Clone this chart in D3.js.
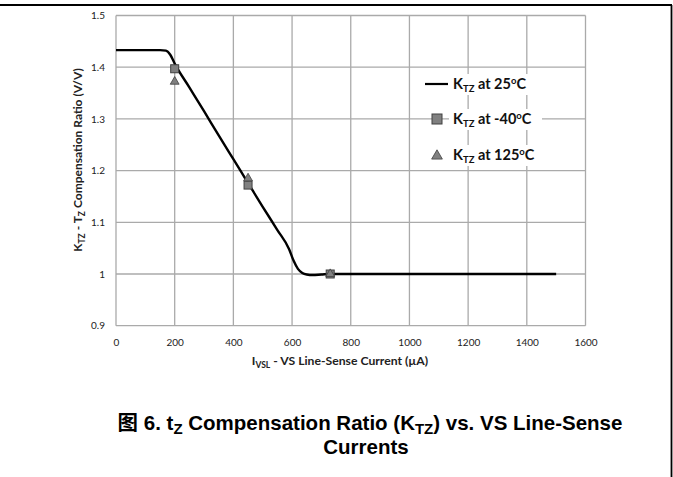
<!DOCTYPE html>
<html><head><meta charset="utf-8">
<script src="https://cdn.jsdelivr.net/npm/d3@7"></script>
<style>body{margin:0;background:#fff;}svg{display:block;}</style>
</head><body>
<svg id="c" width="673" height="477"></svg>
<script>
// ---- data ----
const xTicks = [0, 200, 400, 600, 800, 1000, 1200, 1400, 1600];
const yTicks = [0.9, 1, 1.1, 1.2, 1.3, 1.4, 1.5];
const yTickLabels = ["0.9", "1", "1.1", "1.2", "1.3", "1.4", "1.5"];
const curve25X = [0, 100, 150, 170, 185, 200, 250, 300, 350, 400, 450, 500, 550, 590, 605, 620, 635, 650, 670, 700, 730, 800, 1000, 1200, 1500];
const curve25Y = [1.433, 1.433, 1.433, 1.432, 1.424, 1.407, 1.361, 1.315, 1.268, 1.222, 1.176, 1.130, 1.085, 1.048, 1.026, 1.010, 1.002, 0.999, 0.998, 0.999, 1.0, 1.0, 1.0, 1.0, 1.0];
const m40X = [200, 450, 730];
const m40Y = [1.397, 1.172, 1.0];
const h125X = [200, 450, 730];
const h125Y = [1.372, 1.185, 1.0];

const svg = d3.select("#c");
const x = d3.scaleLinear().domain([0, 1600]).range([116, 585.5]);
const y = d3.scaleLinear().domain([0.9, 1.5]).range([325.7, 15.5]);
const tickFont = "Lato, 'Open Sans', sans-serif";

// frame
svg.append("line").attr("x1", 0).attr("x2", 672).attr("y1", 5).attr("y2", 5).attr("stroke", "#000").attr("stroke-width", 1.8);
svg.append("line").attr("x1", 671.5).attr("x2", 671.5).attr("y1", 5).attr("y2", 477).attr("stroke", "#000").attr("stroke-width", 1.8);

// gridlines
const gridColor = "#aaaaaa";
svg.append("g").selectAll("line").data(xTicks).join("line")
  .attr("x1", d => x(d)).attr("x2", d => x(d)).attr("y1", y(1.5)).attr("y2", y(0.9))
  .attr("stroke", gridColor).attr("stroke-width", 1.3);
svg.append("g").selectAll("line").data(yTicks).join("line")
  .attr("x1", x(0)).attr("x2", x(1600)).attr("y1", d => y(d)).attr("y2", d => y(d))
  .attr("stroke", gridColor).attr("stroke-width", 1.3);

// axes (labels only)
const xAxis = d3.axisBottom(x).tickValues(xTicks).tickSize(0).tickPadding(13).tickFormat(d3.format("d"));
const gx = svg.append("g").attr("transform", `translate(0,${y(0.9)})`).call(xAxis);
gx.select(".domain").remove();
gx.selectAll("text").attr("font-family", tickFont).attr("font-size", 10).attr("fill", "#222");
const yAxis = d3.axisLeft(y).tickValues(yTicks).tickSize(0).tickPadding(11).tickFormat((d, i) => yTickLabels[i]);
const gy = svg.append("g").attr("transform", `translate(${x(0)},0)`).call(yAxis);
gy.select(".domain").remove();
gy.selectAll("text").attr("font-family", tickFont).attr("font-size", 10).attr("fill", "#222");

// axis titles
const xt = svg.append("text").attr("x", 340).attr("y", 365).attr("text-anchor", "middle")
  .attr("font-family", tickFont).attr("font-weight", "bold").attr("font-size", 12.2).attr("fill", "#222");
xt.append("tspan").text("I");
xt.append("tspan").attr("font-size", 8.5).attr("dy", 2.5).text("VSL");
xt.append("tspan").attr("dy", -2.5).text(" - VS Line-Sense Current (µA)");

const yt = svg.append("text").attr("transform", "translate(82,160) rotate(-90)").attr("text-anchor", "middle")
  .attr("font-family", tickFont).attr("font-weight", "bold").attr("font-size", 12).attr("fill", "#222");
yt.append("tspan").text("K");
yt.append("tspan").attr("font-size", 8.5).attr("dy", 2.5).text("TZ");
yt.append("tspan").attr("dy", -2.5).text(" - T");
yt.append("tspan").attr("font-size", 8.5).attr("dy", 2.5).text("Z");
yt.append("tspan").attr("dy", -2.5).text(" Compensation Ratio (V/V)");

// 25C curve
const pts = curve25X.map((d, i) => [d, curve25Y[i]]);
svg.append("path").datum(pts)
  .attr("d", d3.line().x(d => x(d[0])).y(d => y(d[1])).curve(d3.curveMonotoneX))
  .attr("fill", "none").attr("stroke", "#000").attr("stroke-width", 2.4);

// markers
const mFill = "#808080", mStroke = "#404040";
const sq = 8;
svg.append("g").selectAll("rect").data(m40X.map((d, i) => [d, m40Y[i]])).join("rect")
  .attr("x", d => x(d[0]) - sq / 2).attr("y", d => y(d[1]) - sq / 2).attr("width", sq).attr("height", sq)
  .attr("fill", mFill).attr("stroke", mStroke).attr("stroke-width", 1);
const tri = d3.symbol().type(d3.symbolTriangle).size(34);
svg.append("g").selectAll("path").data(h125X.map((d, i) => [d, h125Y[i]])).join("path")
  .attr("d", tri).attr("transform", d => `translate(${x(d[0])},${y(d[1])})`)
  .attr("fill", mFill).attr("stroke", mStroke).attr("stroke-width", 0.8);

// legend
const legendLabels = ["25", "-40", "125"];
const ly = [84, 119, 155];
const lg = svg.append("g");
legendLabels.forEach((t, i) => {
  lg.append("rect").attr("x", 449).attr("y", ly[i] - 10).attr("width", 93).attr("height", 21).attr("fill", "#fff");
  const tx = lg.append("text").attr("x", 453).attr("y", ly[i] + 5)
    .attr("font-family", tickFont).attr("font-weight", "bold").attr("font-size", 14.5).attr("fill", "#111");
  tx.append("tspan").text("K");
  tx.append("tspan").attr("font-size", 9.5).attr("dy", 2.5).text("TZ");
  tx.append("tspan").attr("dy", -2.5).text(" at " + t);
  tx.append("tspan").attr("font-size", 9.5).attr("dy", -5.5).text("o");
  tx.append("tspan").attr("dy", 5.5).text("C");
});
lg.append("line").attr("x1", 425).attr("x2", 448).attr("y1", ly[0]).attr("y2", ly[0]).attr("stroke", "#000").attr("stroke-width", 2.2);
lg.append("rect").attr("x", 437 - 5).attr("y", ly[1] - 5).attr("width", 10).attr("height", 10)
  .attr("fill", mFill).attr("stroke", mStroke).attr("stroke-width", 1);
lg.append("path").attr("d", d3.symbol().type(d3.symbolTriangle).size(50))
  .attr("transform", `translate(437,${ly[2] + 1})`).attr("fill", mFill).attr("stroke", mStroke).attr("stroke-width", 0.8);

// caption
const capFont = "'Liberation Sans', Arial, 'Noto Sans CJK SC', sans-serif";
const c1 = svg.append("text").attr("x", 370).attr("y", 430).attr("text-anchor", "middle")
  .attr("font-family", capFont).attr("font-weight", "bold").attr("font-size", 20.5).attr("fill", "#000");
c1.append("tspan").attr("font-family", "'Noto Sans CJK SC', sans-serif").text("图");
c1.append("tspan").text(" 6. t");
c1.append("tspan").attr("font-size", 15).attr("dy", 4).text("Z");
c1.append("tspan").attr("dy", -4).text(" Compensation Ratio (K");
c1.append("tspan").attr("font-size", 15).attr("dy", 4).text("TZ");
c1.append("tspan").attr("dy", -4).text(") vs. VS Line-Sense");
svg.append("text").attr("x", 366).attr("y", 454).attr("text-anchor", "middle")
  .attr("font-family", capFont).attr("font-weight", "bold").attr("font-size", 20.5).attr("fill", "#000")
  .text("Currents");
</script>
</body></html>
